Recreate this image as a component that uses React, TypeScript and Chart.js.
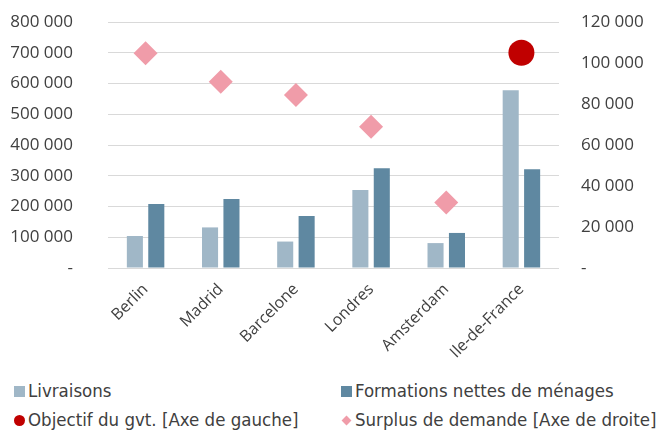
import React, { useEffect, useRef } from "react";
import { Chart, registerables } from "chart.js";

Chart.register(...registerables);

const categories = ["Berlin", "Madrid", "Barcelone", "Londres", "Amsterdam", "Ile-de-France"];
const livraisons = [104000, 132000, 86000, 254000, 81000, 578000];
const formations = [208000, 224000, 169000, 324000, 114000, 321000];
const objectif = [null, null, null, null, null, 700000];
const surplus = [104700, 90900, 84400, 68900, 32000, null];

const seriesNames = [
  "Livraisons",
  "Formations nettes de ménages",
  "Objectif du gvt. [Axe de gauche]",
  "Surplus de demande [Axe de droite]",
];
const leftMax = 800000;
const leftStep = 100000;
const rightMax = 120000;
const rightStep = 20000;

const COL_LIV = "#a0b7c7";
const COL_FORM = "#5f88a1";
const COL_OBJ = "#c00000";
const COL_SUR = "#f09ca9";
const TXT = "#404040";
const TICK_FONT = "'Open Sans', sans-serif";
const CAT_FONT = "'Open Sans', sans-serif";
const LEG_FONT = "'DejaVu Sans Condensed', 'DejaVu Sans', sans-serif";

const fmt = (v: number) =>
  v === 0 ? "-" : String(Math.round(v)).replace(/\B(?=(\d{3})+(?!\d))/g, " ");

export default function App() {
  const ref = useRef<HTMLCanvasElement | null>(null);

  useEffect(() => {
    document.body.style.margin = "0";
    const canvas = ref.current;
    if (!canvas) return;
    const chart = new Chart(canvas, {
      data: {
        labels: categories,
        datasets: [
          {
            type: "line",
            label: seriesNames[2],
            data: objectif,
            yAxisID: "y",
            showLine: false,
            pointStyle: "circle",
            pointRadius: 13,
            pointBackgroundColor: COL_OBJ,
            pointBorderColor: COL_OBJ,
            pointBorderWidth: 0,
            order: 0,
          },
          {
            type: "line",
            label: seriesNames[3],
            data: surplus,
            yAxisID: "y1",
            showLine: false,
            pointStyle: "rectRot",
            pointRadius: 12,
            pointBackgroundColor: COL_SUR,
            pointBorderColor: COL_SUR,
            pointBorderWidth: 0,
            order: 1,
          },
          {
            type: "bar",
            label: seriesNames[0],
            data: livraisons,
            yAxisID: "y",
            backgroundColor: COL_LIV,
            categoryPercentage: 0.57,
            barPercentage: 0.75,
            order: 2,
          },
          {
            type: "bar",
            label: seriesNames[1],
            data: formations,
            yAxisID: "y",
            backgroundColor: COL_FORM,
            categoryPercentage: 0.57,
            barPercentage: 0.75,
            order: 3,
          },
        ],
      } as any,
      options: {
        responsive: false,
        animation: false,
        layout: { padding: { top: 22, left: 0, right: 0, bottom: 0 } },
        plugins: { legend: { display: false }, tooltip: { enabled: false } },
        scales: {
          x: {
            type: "category",
            offset: true,
            grid: { display: false },
            border: { display: false },
            ticks: {
              minRotation: 45,
              maxRotation: 45,
              padding: 4,
              color: TXT,
              font: { family: CAT_FONT, size: 16 },
            },
            afterFit: (s: any) => {
              s.height = 92;
            },
          },
          y: {
            position: "left",
            min: 0,
            max: leftMax,
            border: { display: false },
            grid: {
              color: "#d9d9d9",
              lineWidth: 1,
              drawTicks: true,
              tickLength: 35,
              tickColor: "rgba(0,0,0,0)",
            },
            ticks: {
              stepSize: leftStep,
              padding: 0,
              color: TXT,
              font: { family: TICK_FONT, size: 17 },
              callback: (v: any) => fmt(Number(v)),
            },
            afterFit: (s: any) => {
              s.width = 108;
            },
          },
          y1: {
            position: "right",
            min: 0,
            max: rightMax,
            border: { display: false },
            grid: {
              drawOnChartArea: false,
              drawTicks: true,
              tickLength: 22,
              tickColor: "rgba(0,0,0,0)",
              color: "rgba(0,0,0,0)",
            },
            ticks: {
              stepSize: rightStep,
              padding: 0,
              color: TXT,
              font: { family: TICK_FONT, size: 17 },
              callback: (v: any) => fmt(Number(v)),
            },
            afterFit: (s: any) => {
              s.width = 101;
            },
          },
        },
      } as any,
    });
    return () => chart.destroy();
  }, []);

  const legendItem = (i: number, left: number, top: number, marker: React.ReactNode) => (
    <div
      key={i}
      style={{
        position: "absolute",
        left,
        top,
        display: "flex",
        alignItems: "center",
        whiteSpace: "nowrap",
        fontFamily: LEG_FONT,
        fontSize: 18.5,
        color: TXT,
        lineHeight: "20px",
      }}
    >
      {marker}
      <span>{seriesNames[i]}</span>
    </div>
  );

  const sq = (c: string) => (
    <span style={{ display: "inline-block", width: 11, height: 11, background: c, marginLeft: 2, marginRight: 3 }} />
  );
  const dot = (
    <span
      style={{
        display: "inline-block",
        width: 11,
        height: 11,
        borderRadius: 6,
        background: COL_OBJ,
        marginLeft: 2,
        marginRight: 3,
      }}
    />
  );
  const dia = (
    <span
      style={{
        display: "inline-block",
        width: 7,
        height: 7,
        background: COL_SUR,
        transform: "rotate(45deg)",
        marginLeft: 4,
        marginRight: 5,
      }}
    />
  );

  return (
    <div style={{ position: "relative", width: 660, height: 430, background: "#fff" }}>
      <canvas ref={ref} width={660} height={360} style={{ display: "block" }} />
      {legendItem(0, 12, 381, sq(COL_LIV))}
      {legendItem(1, 339, 381, sq(COL_FORM))}
      {legendItem(2, 12, 410, dot)}
      {legendItem(3, 339, 410, dia)}
    </div>
  );
}
